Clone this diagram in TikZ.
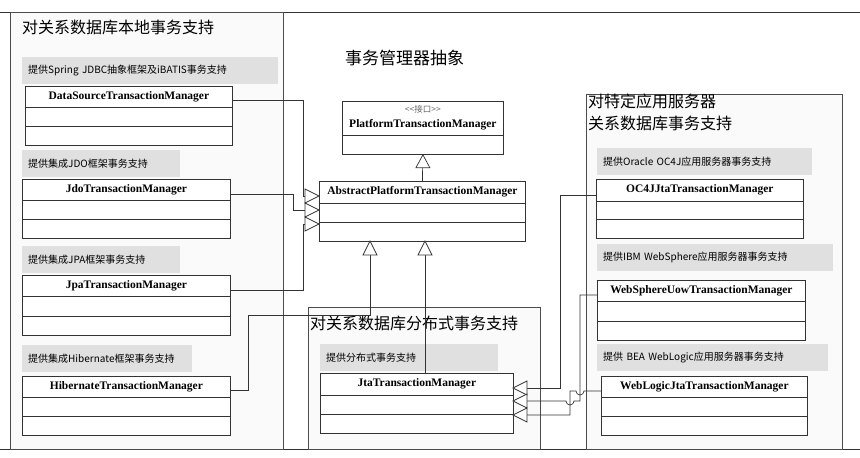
\documentclass[tikz,border=0pt]{standalone}
\usepackage{fontspec}
\usetikzlibrary{calc}
\setmainfont{Liberation Serif}
\newfontfamily\cjk{Noto Sans CJK SC}
\begin{document}
\begin{tikzpicture}[x=1pt,y=-1pt,
  panel/.style={draw=black!70,fill=black!2,line width=0.8pt},
  glabel/.style={fill=black!12,anchor=north west,inner xsep=6pt,inner ysep=0pt,font=\cjk\fontsize{10}{12}\selectfont,align=left},
  cls/.style={draw=black!80,fill=white,line width=0.8pt,anchor=north west,inner sep=0pt},
  ctext/.style={font=\fontsize{11.5}{13}\selectfont\bfseries,anchor=north},
  ttl/.style={font=\cjk\fontsize{16}{20}\selectfont,anchor=north west,inner sep=0pt,align=left},
  conn/.style={draw=black!80,line width=0.7pt},
  tri/.style={draw=black!80,fill=white,line width=0.7pt}]
\useasboundingbox (0,0) rectangle (860,458);
\newcommand\clsbox[8]{%
  \node[cls,minimum width=#4,minimum height=#5] (#1) at (#2,#3) {};
  \node[ctext] (#1t) at ($(#1.north)+(0,2)$) {#6};
  \draw[black!80,line width=0.8pt] ($(#1.north west)+(0,#7)$) -- ($(#1.north east)+(0,#7)$)
        ($(#1.north west)+(0,#8)$) -- ($(#1.north east)+(0,#8)$);}
\newcommand\glab[5]{\node[glabel,text width=#4-12,minimum height=27] (#1) at (#2,#3) {#5};}
% frame lines
\draw[black!80,line width=0.8pt] (0,12) -- (860,12) (0,449) -- (860,449);
% panels
\node[panel,anchor=north west,minimum width=273,minimum height=437,inner sep=0] (pl) at (10,12) {};
\node[panel,anchor=north west,minimum width=232,minimum height=142,inner sep=0] (pd) at (308,307) {};
\node[panel,anchor=north west,minimum width=256,minimum height=355,inner sep=0] (pr) at (586,94) {};
\node[ttl] (tl) at (22,20) {对关系数据库本地事务支持};
\node[ttl] (td) at (310,316) {对关系数据库分布式事务支持};
\node[ttl] (tr) at (588,94) {对特定应用服务器\\[2pt]关系数据库事务支持};
\node[ttl,font=\cjk\fontsize{17}{20}\selectfont] (tm) at (345,50) {事务管理器抽象};
% left
\glab{g1}{22}{57}{256}{提供Spring JDBC抽象框架及iBATIS事务支持}
\clsbox{ds}{25}{86}{207}{59}{DataSourceTransactionManager}{21}{40}
\glab{g2}{22}{150}{158}{提供集成JDO框架事务支持}
\clsbox{jdo}{22}{179}{208}{59}{JdoTransactionManager}{21}{40}
\glab{g3}{22}{246}{158}{提供集成JPA框架事务支持}
\clsbox{jpa}{22}{275}{208}{60}{JpaTransactionManager}{21}{41}
\glab{g4}{22}{345}{170}{提供集成Hibernate框架事务支持}
\clsbox{hib}{22}{376}{208}{59}{HibernateTransactionManager}{21}{40}
% center
\node[cls,minimum width=161,minimum height=53] (ptm) at (342,101) {};
\node[font=\cjk\fontsize{8.5}{10}\selectfont,text=black!60,anchor=north] (ptmi) at ($(ptm.north)+(0,1)$) {<<接口>>};
\node[ctext] (ptmt) at ($(ptm.north)+(0,15)$) {PlatformTransactionManager};
\draw[black!80,line width=0.8pt] ($(ptm.north west)+(0,34)$) -- ($(ptm.north east)+(0,34)$);
\clsbox{apt}{319}{181}{206}{60}{AbstractPlatformTransactionManager}{22}{41}
\clsbox{jta}{320}{373}{193}{60}{JtaTransactionManager}{22}{41}
\glab{g5}{320}{344}{178}{提供分布式事务支持}
% right
\glab{g6}{597}{148}{215}{提供Oracle OC4J应用服务器事务支持}
\clsbox{oc}{596}{179}{207}{59}{OC4JJtaTransactionManager}{22}{40}
\glab{g7}{597}{244}{236}{提供IBM WebSphere应用服务器事务支持}
\clsbox{ws}{597}{280}{208}{60}{WebSphereUowTransactionManager}{21}{41}
\glab{g8}{597}{344}{231}{提供 BEA WebLogic应用服务器事务支持}
\clsbox{wl}{601}{376}{206}{59}{WebLogicJtaTransactionManager}{21}{40}
% arrow tips
\coordinate (a1) at (319,196);
\coordinate (a2) at (319,210);
\coordinate (a3) at (319,224);
\coordinate (b1) at (370,241);
\coordinate (b2) at (425,241);
\coordinate (c1) at (513,388);
\coordinate (c2) at (513,401);
\coordinate (c3) at (513,415);
% connectors
\draw[conn] (232,100) -- (303,100) -- (303,196) -- ($(a1)+(-14,0)$);
\draw[conn] (230,194) -- (293,194) -- (293,210) -- ($(a2)+(-14,0)$);
\draw[conn] (230,290) -- (303,290) -- (303,224) -- ($(a3)+(-14,0)$);
\draw[conn] (230,390) -- (248,390) -- (248,315) -- (370,315) -- ($(b1)+(0,14)$);
\draw[conn] (425,373) -- ($(b2)+(0,14)$);
\draw[conn] (ptm.south) -- (apt.north);
\draw[conn] (596,195) -- (560,195) -- (560,388) -- ($(c1)+(14,0)$);
\draw[conn] (597,295) -- (580,295) -- (580,401) -- (574,401) arc[start angle=0,end angle=180,radius=4] -- ($(c2)+(14,0)$);
\draw[conn] (601,391) -- (584,391) arc[start angle=0,end angle=180,radius=4] -- (570,391) -- (570,415) -- ($(c3)+(14,0)$);
% triangles
\foreach \p in {a1,a2,a3} \draw[tri] (\p) -- ++(-14,-7) -- ++(0,14) -- cycle;
\foreach \p in {c1,c2,c3} \draw[tri] (\p) -- ++(14,-7) -- ++(0,14) -- cycle;
\foreach \p in {b1,b2} \draw[tri] (\p) -- ++(-7,14) -- ++(14,0) -- cycle;
\draw[tri] (ptm.south) -- ++(-7,13) -- ++(14,0) -- cycle;
\end{tikzpicture}
\end{document}
